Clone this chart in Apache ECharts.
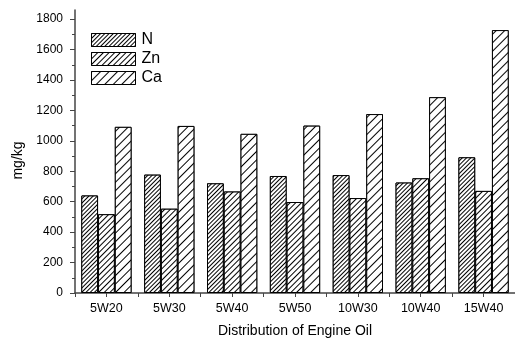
<!DOCTYPE html>
<html>
<head>
<meta charset="utf-8">
<script src="https://cdn.jsdelivr.net/npm/echarts@6/dist/echarts.min.js"></script>
<style>
html,body{margin:0;padding:0;background:#fff;}
#c{width:515px;height:343px;}
</style>
</head>
<body>
<div id="c"></div>
<script>
const categories = ['5W20', '5W30', '5W40', '5W50', '10W30', '10W40', '15W40'];
const seriesNames = ['N', 'Zn', 'Ca'];
const valuesN  = [641, 778, 721, 769, 775, 726, 892];
const valuesZn = [518, 554, 667, 598, 624, 754, 671];
const valuesCa = [1092, 1098, 1046, 1100, 1176, 1287, 1728];
const majorTicks = [0, 200, 400, 600, 800, 1000, 1200, 1400, 1600, 1800];
const minorTicks = [100, 300, 500, 700, 900, 1100, 1300, 1500, 1700];

const FONT = 'Liberation Sans, Arial, sans-serif';
const hatchGaps = [1.4, 2.8, 4.9];
const seriesValues = [valuesN, valuesZn, valuesCa];

function makeSeries(i) {
  return {
    name: seriesNames[i],
    type: 'bar',
    xAxisIndex: 0,
    yAxisIndex: 0,
    data: seriesValues[i],
    barGap: '0%',
    barCategoryGap: '20%',
    itemStyle: {
      color: '#fff',
      borderColor: '#000',
      borderWidth: 1,
      decal: {
        symbol: 'rect',
        symbolSize: 1,
        color: '#000',
        backgroundColor: '#fff',
        dashArrayX: [1, 0],
        dashArrayY: [1, hatchGaps[i]],
        rotation: -Math.PI / 4
      }
    },
    emphasis: { disabled: true }
  };
}

const chart = echarts.init(document.getElementById('c'), null, { renderer: 'canvas' });
chart.setOption({
  animation: false,
  backgroundColor: '#fff',
  textStyle: { fontFamily: FONT },
  grid: { left: 75, right: -2, top: 10, bottom: 46, containLabel: false },
  legend: {
    orient: 'vertical',
    left: 91,
    top: 32,
    padding: 0,
    itemWidth: 44,
    itemHeight: 13,
    itemGap: 3,
    icon: 'rect',
    itemStyle: { borderWidth: 1, borderColor: '#000' },
    textStyle: { fontSize: 16, color: '#000', fontFamily: FONT, padding: [0, 0, 0, 1] },
    data: seriesNames
  },
  xAxis: [
    {
      type: 'category',
      data: categories,
      name: 'Distribution of Engine Oil',
      nameLocation: 'middle',
      nameGap: 31,
      nameTextStyle: { fontSize: 14, color: '#000', fontFamily: FONT },
      axisLine: { show: true, lineStyle: { color: '#444', width: 1.5 } },
      axisTick: { show: true, length: 4, alignWithLabel: false, lineStyle: { color: '#444', width: 1 } },
      axisLabel: { fontSize: 12.5, color: '#000', margin: 9, fontFamily: FONT },
      splitLine: { show: false }
    },
    {
      type: 'category',
      data: categories,
      position: 'bottom',
      axisLine: { show: false },
      axisTick: { show: true, length: 4, alignWithLabel: true, lineStyle: { color: '#444', width: 1 } },
      axisLabel: { show: false },
      splitLine: { show: false }
    }
  ],
  yAxis: [
    {
      type: 'value',
      min: 0,
      max: 1860,
      name: 'mg/kg',
      nameLocation: 'middle',
      nameRotate: 90,
      nameGap: 42,
      nameTextStyle: { fontSize: 14, color: '#000', fontFamily: FONT, padding: [0, 0, 0, -18] },
      axisLine: { show: true, lineStyle: { color: '#444', width: 1.5 } },
      axisTick: { show: true, length: 5, customValues: majorTicks, lineStyle: { color: '#444', width: 1 } },
      axisLabel: { fontSize: 12, color: '#000', margin: 12, customValues: majorTicks, fontFamily: FONT,
                   formatter: function (v) { return String(v); } },
      splitLine: { show: false }
    },
    {
      type: 'value',
      min: 0,
      max: 1860,
      position: 'left',
      axisLine: { show: false },
      axisTick: { show: true, length: 3, customValues: minorTicks, lineStyle: { color: '#444', width: 1 } },
      axisLabel: { show: false, customValues: minorTicks },
      splitLine: { show: false }
    }
  ],
  series: [makeSeries(0), makeSeries(1), makeSeries(2)]
});
</script>
</body>
</html>
